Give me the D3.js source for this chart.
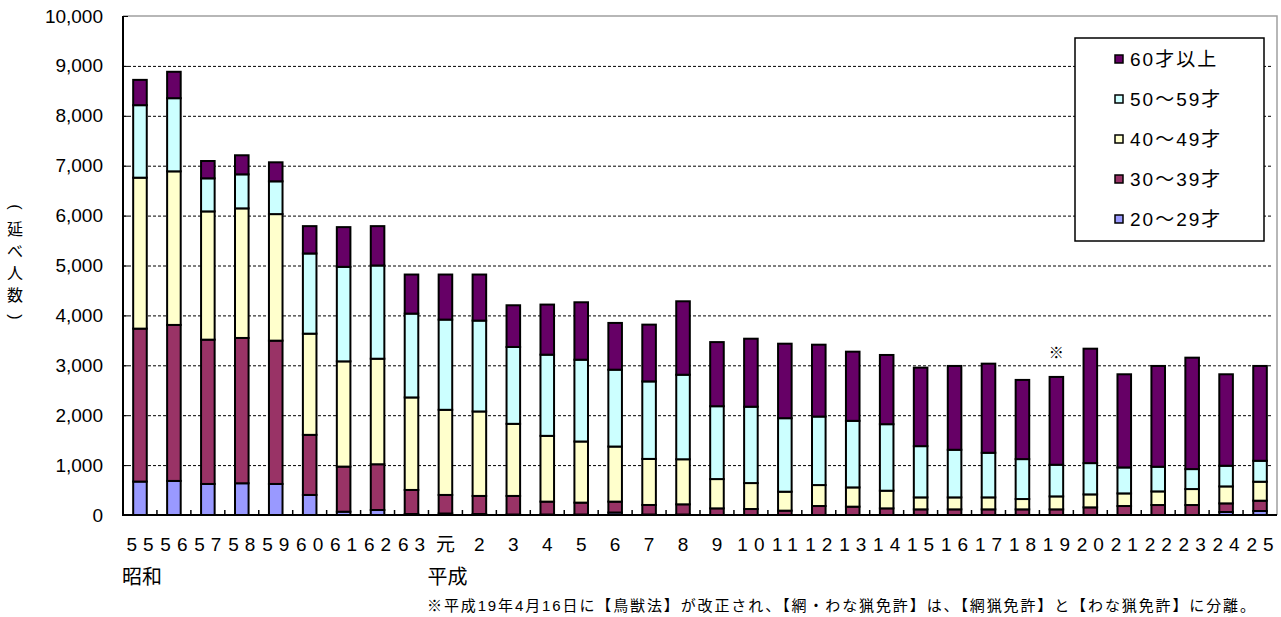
<!DOCTYPE html>
<html>
<head>
<meta charset="utf-8">
<script src="https://cdn.jsdelivr.net/npm/d3@7"></script>
<style>
  body { margin: 0; background: #fff; }
  text { font-family: "Liberation Sans", "Noto Sans CJK JP", sans-serif; fill: #000; }
</style>
</head>
<body>
<script>
// Data (延べ人数 by age group, 昭和55 – 平成25)
const categories = ['55','56','57','58','59','60','61','62','63','元',
  '2','3','4','5','6','7','8','9','10','11','12','13','14','15','16','17',
  '18','19','20','21','22','23','24','25'];
const age20 = [670, 683, 622, 636, 622, 402, 66, 100, 20, 30, 20, 10, 10, 10, 50, 10, 10,
  0, 0, 0, 0, 0, 0, 0, 0, 0, 0, 0, 0, 0, 0, 0, 60, 80];
const age30 = [3065, 3126, 2892, 2912, 2872, 1204, 904, 917, 482, 372, 362, 372, 258, 238, 218, 191, 204,
  133, 120, 87, 180, 167, 133, 113, 113, 113, 113, 113, 153, 180, 200, 200, 173, 207];
const age40 = [3025, 3078, 2570, 2597, 2536, 2028, 2109, 2115, 1854, 1706, 1693, 1445, 1318, 1225, 1104, 923, 903,
  587, 520, 380, 420, 386, 354, 240, 240, 240, 207, 260, 260, 253, 273, 320, 340, 380];
const age50 = [1453, 1466, 663, 682, 657, 1607, 1894, 1868, 1680, 1808, 1821, 1540, 1627, 1639, 1540, 1553, 1694,
  1460, 1530, 1473, 1373, 1334, 1333, 1027, 954, 894, 800, 634, 627, 520, 494, 400, 414, 420];
const age60 = [507, 529, 347, 382, 381, 548, 796, 789, 783, 903, 923, 836, 1004, 1151, 937, 1138, 1472,
  1285, 1363, 1493, 1440, 1386, 1387, 1573, 1680, 1786, 1587, 1760, 2293, 1867, 2020, 2233, 1833, 1900];

const seriesNames = ['20～29才', '30～39才', '40～49才', '50～59才', '60才以上'];
const seriesColors = ['#9999FF', '#993366', '#FFFFCC', '#CCFFFF', '#660066'];
const yTicks = [0, 1000, 2000, 3000, 4000, 5000, 6000, 7000, 8000, 9000, 10000];
const eraLabels = [{ cat: '55', text: '昭和' }, { cat: '元', text: '平成' }];
const noteCat = '19';
const yTitle = '(延べ人数)';
const footnote = '※平成19年4月16日に【鳥獣法】が改正され、【網・わな猟免許】は、【網猟免許】と【わな猟免許】に分離。';

// Canvas
const width = 1281, height = 617;
const plot = { left: 123, right: 1277, top: 16, bottom: 515 };

const svg = d3.select('body')
  .append('svg')
  .attr('width', width)
  .attr('height', height);

// Scales
const x = d3.scaleBand()
  .domain(categories)
  .range([plot.left, plot.right])
  .paddingInner(0.6)
  .paddingOuter(0.3);

const y = d3.scaleLinear()
  .domain([0, 10000])
  .range([plot.bottom, plot.top]);

// Gridlines (dotted)
svg.append('g')
  .selectAll('line')
  .data(yTicks.filter(d => d > 0 && d < 10000))
  .join('line')
  .attr('x1', plot.left)
  .attr('x2', plot.right - 4)
  .attr('y1', d => y(d) + 0.5)
  .attr('y2', d => y(d) + 0.5)
  .attr('stroke', '#000')
  .attr('stroke-width', 1)
  .attr('stroke-dasharray', '3,2');

// Plot area border, top and right
svg.append('path')
  .attr('d', `M${plot.left},${y(10000)}H${plot.right}V${plot.bottom}`)
  .attr('fill', 'none')
  .attr('stroke', '#a0a0a0')
  .attr('stroke-width', 1.5);

// Stacked bars
const keys = ['a20', 'a30', 'a40', 'a50', 'a60'];
const rows = categories.map((c, i) => ({
  cat: c, a20: age20[i], a30: age30[i], a40: age40[i], a50: age50[i], a60: age60[i]
}));
const layers = d3.stack().keys(keys)(rows);

svg.append('g')
  .selectAll('g')
  .data(layers)
  .join('g')
  .attr('fill', (d, i) => seriesColors[i])
  .selectAll('rect')
  .data(d => d.filter(s => s[1] - s[0] > 0))
  .join('rect')
  .attr('x', d => x(d.data.cat))
  .attr('y', d => y(d[1]))
  .attr('width', x.bandwidth())
  .attr('height', d => y(d[0]) - y(d[1]))
  .attr('stroke', '#000')
  .attr('stroke-width', 2);

// Y axis
const yAxis = d3.axisLeft(y)
  .tickValues(yTicks)
  .tickFormat(d3.format(','))
  .tickSizeInner(-5)
  .tickSizeOuter(0)
  .tickPadding(20);

const gy = svg.append('g')
  .attr('transform', `translate(${plot.left},0)`)
  .call(yAxis);
gy.select('.domain').remove();
gy.selectAll('line').attr('stroke', '#000');
gy.selectAll('text')
  .style('font-size', '19px')
  .attr('fill', '#000');

// X axis labels (wide letter spacing, shifted back to stay centred)
const labelSpacing = 6;
const xAxis = d3.axisBottom(x)
  .tickSize(0)
  .tickPadding(23);

const gx = svg.append('g')
  .attr('transform', `translate(0,${plot.bottom})`)
  .call(xAxis);
gx.select('.domain').remove();
gx.selectAll('text')
  .style('font-size', '19px')
  .style('letter-spacing', `${labelSpacing}px`)
  .attr('dx', labelSpacing / 2)
  .attr('fill', '#000');

// Category boundary ticks on the base line
const half = (x.step() - x.bandwidth()) / 2;
svg.append('g')
  .selectAll('line')
  .data(categories.slice(1))
  .join('line')
  .attr('x1', d => x(d) - half)
  .attr('x2', d => x(d) - half)
  .attr('y1', plot.bottom)
  .attr('y2', plot.bottom - 5)
  .attr('stroke', '#000')
  .attr('stroke-width', 1.5);

// Axis lines
svg.append('path')
  .attr('d', `M${plot.left},${y(10000)}V${plot.bottom}H${plot.right}`)
  .attr('fill', 'none')
  .attr('stroke', '#000')
  .attr('stroke-width', 2);

// Era labels under the axis
svg.append('g')
  .selectAll('text')
  .data(eraLabels)
  .join('text')
  .attr('x', d => x(d.cat) + x.bandwidth() / 2 + 2)
  .attr('y', 584)
  .attr('text-anchor', 'middle')
  .style('font-size', '20px')
  .text(d => d.text);

// Y title, one character per line; brackets turned to lie across the column
const titleChars = Array.from(yTitle);
svg.append('g')
  .selectAll('text')
  .data(titleChars)
  .join('text')
  .attr('text-anchor', 'middle')
  .attr('dominant-baseline', 'central')
  .attr('transform', (d, i) => {
    const t = `translate(15,${207 + i * 22})`;
    return (d === '(' || d === ')') ? t + ' rotate(90)' : t;
  })
  .style('font-size', '16px')
  .text(d => d);

// ※ mark over 平成19
const noteIdx = categories.indexOf(noteCat);
const noteTotal = age20[noteIdx] + age30[noteIdx] + age40[noteIdx] + age50[noteIdx] + age60[noteIdx];
svg.append('text')
  .attr('x', x(noteCat) + x.bandwidth() / 2)
  .attr('y', y(noteTotal) - 19)
  .attr('text-anchor', 'middle')
  .style('font-size', '15px')
  .text('※');

// Legend
const legend = svg.append('g')
  .attr('transform', 'translate(1075,38)');

legend.append('rect')
  .attr('width', 189)
  .attr('height', 203)
  .attr('fill', '#fff')
  .attr('stroke', '#000')
  .attr('stroke-width', 1.5);

const legendItems = legend.selectAll('g.item')
  .data(seriesNames.map((n, i) => ({ name: n, color: seriesColors[i] })).reverse())
  .join('g')
  .attr('class', 'item')
  .attr('transform', (d, i) => `translate(0,${21 + i * 40})`);

legendItems.append('rect')
  .attr('x', 40)
  .attr('y', -4)
  .attr('width', 8)
  .attr('height', 8)
  .attr('fill', d => d.color)
  .attr('stroke', '#000')
  .attr('stroke-width', 1.5);

legendItems.append('text')
  .attr('x', 55)
  .attr('y', 7)
  .style('font-size', '19px')
  .style('letter-spacing', '2px')
  .text(d => d.name);

// Footnote
svg.append('text')
  .attr('x', 1255)
  .attr('y', 611)
  .attr('text-anchor', 'end')
  .style('font-size', '15px')
  .attr('textLength', 828)
  .attr('lengthAdjust', 'spacing')
  .text(footnote);
</script>
</body>
</html>
